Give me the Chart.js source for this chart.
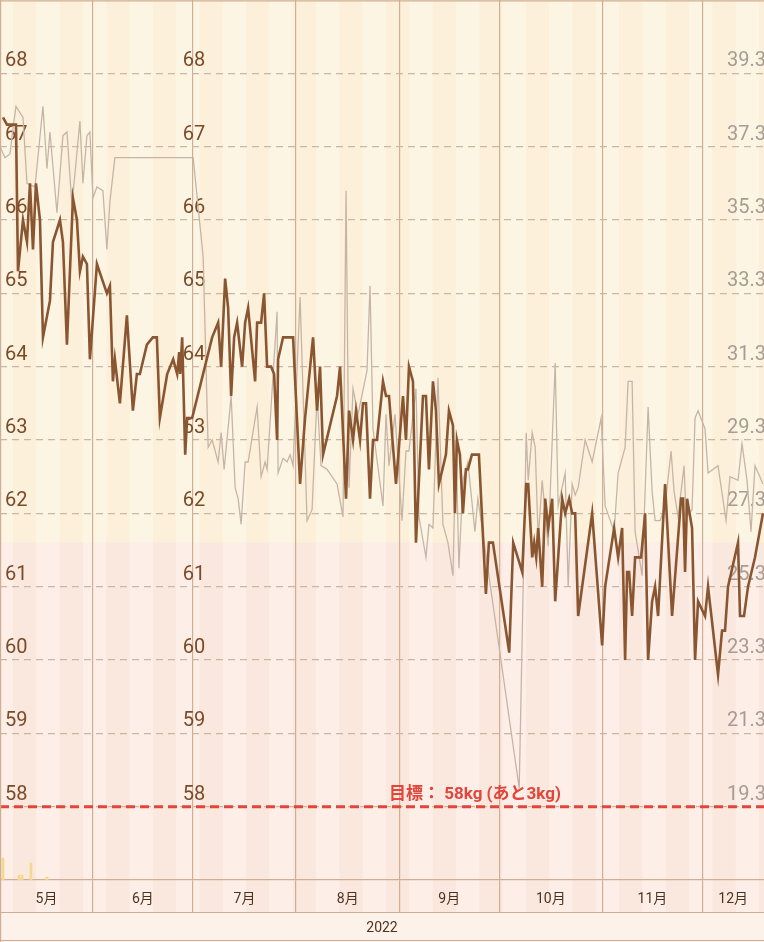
<!DOCTYPE html>
<html>
<head>
<meta charset="utf-8">
<script src="https://cdn.jsdelivr.net/npm/chart.js@4.4.0/dist/chart.umd.min.js"></script>
<style>
html,body{margin:0;padding:0;background:#fdf1e8;}
#wrap{width:764px;height:942px;position:relative;}
</style>
</head>
<body>
<div id="wrap"><canvas id="chart"></canvas></div>
<script>
// days counted from 1 May 2022 (0 = 1 May)
const monthStarts=[0,31,61,92,123,153,184,214,245];
const monthLabels=["5月","6月","7月","8月","9月","10月","11月","12月"];
const yearLabel="2022";
const weightTicks=[58,59,60,61,62,63,64,65,66,67,68];
const fatTicks=[19.3,21.3,23.3,25.3,27.3,29.3,31.3,33.3,35.3,37.3,39.3];
const goalWeight=58;
const goalText="目標： 58kg (あと3kg)";
const zoneLimit=61.6;

const weightDays=[4.0,5.2,7.9,8.5,10.0,11.2,12.1,13.0,13.9,15.1,
16.0,18.1,19.0,21.1,22.0,23.2,25.0,26.2,27.1,28.0,
29.2,30.1,32.2,35.2,36.1,37.0,37.6,39.1,41.2,43.0,
44.2,45.1,47.2,49.0,50.2,51.1,53.3,55.1,56.3,56.9,
57.2,57.8,58.7,59.3,60.8,66.8,68.6,69.5,70.7,71.6,
72.5,73.4,74.3,75.8,76.7,77.6,79.7,80.3,81.5,82.4,
83.3,84.5,85.4,86.3,86.6,88.1,91.1,93.2,94.7,97.1,
98.3,99.2,100.1,104.3,105.2,107.0,107.9,109.1,110.0,111.2,
112.1,113.0,114.2,115.1,116.3,118.1,119.0,119.9,122.0,124.1,
125.0,125.9,127.1,128.0,130.1,131.0,131.9,133.1,134.0,134.9,
137.0,137.9,139.1,139.7,140.3,141.2,142.1,143.0,143.6,144.8,
146.9,149.0,149.9,151.1,156.0,157.2,159.9,161.1,161.7,162.9,
163.5,164.1,164.7,165.9,166.8,167.7,168.9,169.8,171.9,172.8,
174.0,174.9,175.8,176.7,180.9,183.9,184.8,187.5,188.7,189.9,
190.8,191.4,192.0,192.9,193.8,195.6,196.8,197.7,198.9,199.8,
200.7,202.8,204.9,207.6,208.2,208.8,209.4,210.9,211.8,212.7,
214.8,215.7,218.7,219.9,220.8,221.7,224.7,225.3,226.5,227.7,
229.8,232.2];
const weightKg=[67.4,67.3,67.3,65.3,66.0,65.7,66.5,65.6,66.5,66.0,
64.4,64.9,65.7,66.0,65.7,64.3,66.3,66.0,65.3,65.5,
65.4,64.1,65.4,65.0,65.1,63.8,64.1,63.5,64.7,63.4,
63.9,63.9,64.3,64.4,64.4,63.3,63.9,64.1,63.9,64.2,
63.9,64.4,62.8,63.3,63.3,64.4,64.6,64.0,65.2,64.8,
63.6,64.4,64.6,64.0,64.6,64.8,63.8,64.6,64.6,65.0,
64.0,64.0,63.9,63.0,64.1,64.4,64.4,62.4,63.3,64.4,
63.4,64.0,62.8,63.6,64.0,62.2,63.4,63.0,63.4,63.0,
63.5,63.5,62.2,63.0,63.0,63.8,63.6,63.6,62.4,63.6,
63.0,64.0,63.8,61.6,63.6,63.6,62.6,63.8,63.4,62.4,
62.8,63.4,63.2,62.0,63.0,62.8,62.0,62.6,62.6,62.8,
62.8,60.9,61.6,61.6,60.1,61.6,61.2,62.4,62.4,61.4,
61.6,61.4,61.8,61.0,62.2,61.8,62.2,60.8,62.2,62.0,
62.2,62.0,62.0,60.6,62.0,60.2,61.0,61.8,61.4,61.8,
60.0,61.2,61.2,60.6,61.4,61.4,62.0,60.0,60.8,61.0,
60.6,62.4,60.6,62.2,62.2,61.2,62.2,61.8,60.0,60.8,
60.6,61.0,59.8,60.4,60.4,61.0,61.6,60.6,60.6,61.0,
61.4,62.0];

const fatDays=[3.1,4.6,6.1,7.0,7.9,10.0,11.2,13.6,16.0,17.2,
18.1,20.2,22.0,23.2,24.7,27.1,28.0,29.2,30.1,31.0,
32.2,34.0,35.2,36.1,37.6,61.1,64.1,65.6,66.8,68.6,
69.5,70.4,72.5,73.7,74.6,75.5,76.7,77.6,80.3,81.5,
82.7,83.3,86.3,86.6,88.1,89.3,90.2,91.1,93.2,95.3,
96.8,98.3,99.5,101.3,104.3,106.1,107.0,107.9,109.1,110.6,
113.3,114.2,115.1,118.1,119.0,119.9,121.7,123.8,125.0,125.9,
128.0,128.9,131.0,131.9,133.1,134.6,136.1,137.6,139.1,140.0,
140.9,142.1,143.6,145.7,146.6,159.0,161.1,161.7,162.9,163.8,
164.7,165.9,167.7,169.8,170.7,172.8,173.7,174.9,175.8,176.7,
178.8,180.9,183.6,184.8,187.5,188.7,190.8,191.7,192.9,193.8,
195.9,197.7,198.9,199.8,201.3,202.8,204.6,205.5,206.7,208.5,
209.1,210.9,211.8,212.7,214.8,215.7,218.7,221.1,222.3,224.7,
225.9,227.4,228.6,229.8,232.2];
const fatPct=[37.3,37.0,37.1,37.8,38.4,38.1,36.3,36.2,38.4,36.7,
37.7,35.5,37.6,37.7,35.7,38.0,36.3,37.6,37.7,35.9,
36.2,36.1,34.5,35.8,37.0,37.0,34.3,29.1,29.3,28.7,
29.5,28.5,30.5,28.0,27.7,27.0,28.7,28.7,30.2,28.3,
28.7,28.5,32.8,28.4,28.8,28.7,28.9,28.6,33.2,27.1,
27.4,30.5,28.6,28.5,28.1,27.2,36.1,28.0,30.7,30.0,
31.2,33.5,29.6,27.5,30.0,28.6,30.0,27.1,29.0,29.0,
30.7,27.2,26.1,27.0,26.9,31.0,27.0,26.5,25.6,29.3,
25.8,28.2,28.7,26.8,27.7,19.8,29.5,28.2,29.5,29.1,
26.6,28.2,26.4,31.4,27.5,28.4,25.3,28.1,27.8,28.0,
29.3,28.7,29.9,27.5,26.8,28.4,29.1,30.9,30.9,26.8,
25.6,30.2,27.9,27.1,27.1,27.5,29.0,27.9,27.2,28.6,
27.2,27.4,29.9,30.1,29.6,28.4,28.6,27.1,28.3,28.2,
29.2,28.2,26.8,28.6,28.1];

const stepDays=[4.0,8.8,9.7,12.4,17.2];
const stepVals=[1.0,0.22,0.22,0.78,0.14];

const xMin=3.1, xMax=232.5;

// x ticks: month boundary lines + label in middle of visible part of month
const xTickList=[];
for(let i=0;i<monthLabels.length;i++){
    let a=monthStarts[i], b=monthStarts[i+1];
    if(a>xMin && a<xMax) xTickList.push({value:a,kind:"line",text:""});
    let mid=(Math.max(a,xMin)+Math.min(b,xMax))/2;
    xTickList.push({value:mid,kind:"label",text:monthLabels[i]});
}
xTickList.sort((p,q)=>p.value-q.value);

const pts=(xs,ys)=>xs.map((x,i)=>({x:x,y:ys[i]}));

// vertical axes take no room, labels sit inside the plot
const flatY=s=>{s.width=0;s.paddingTop=0;s.paddingBottom=0;s.paddingLeft=0;s.paddingRight=0;};

const bgPlugin={
    id:"bg",
    beforeDraw(chart){
        const c=chart.ctx, a=chart.chartArea, xs=chart.scales.x, ys=chart.scales.y;
        const rowBottom=a.bottom+32;
        c.save();
        c.fillStyle="#fdf2ea";
        c.fillRect(0,0,chart.width,chart.height);
        const yz=ys.getPixelForValue(zoneLimit);
        c.fillStyle="#fdf5e3";
        c.fillRect(a.left,a.top,a.width,yz-a.top);
        c.fillStyle="#fdefe8";
        c.fillRect(a.left,yz,a.width,rowBottom-yz);
        for(let d=7;d<xMax;d+=14){
            let x1=Math.max(xs.getPixelForValue(d),a.left), x2=Math.min(xs.getPixelForValue(d+7),a.right);
            c.fillStyle="#fcf0da";
            c.fillRect(x1,a.top,x2-x1,yz-a.top);
            c.fillStyle="#fae8df";
            c.fillRect(x1,yz,x2-x1,rowBottom-yz);
        }
        c.restore();
    },
    afterDraw(chart){
        const c=chart.ctx, a=chart.chartArea;
        c.save();
        c.strokeStyle="#cfae95";
        c.lineWidth=1.2;
        c.beginPath();
        c.moveTo(0,a.bottom+32.5);c.lineTo(chart.width,a.bottom+32.5);
        c.moveTo(0,chart.height-1.5);c.lineTo(chart.width,chart.height-1.5);
        c.moveTo(0,0.8);c.lineTo(chart.width,0.8);
        c.moveTo(0.6,0);c.lineTo(0.6,chart.height);
        c.stroke();
        c.restore();
    }
};

const goalPlugin={
    id:"goalLabel",
    afterDatasetsDraw(chart){
        const c=chart.ctx, xs=chart.scales.x, ys=chart.scales.y;
        c.save();
        c.font="bold 17px Roboto, 'Noto Sans CJK JP', sans-serif";
        c.fillStyle="#e2453a";
        c.textAlign="center";
        c.textBaseline="middle";
        c.fillText(goalText,xs.getPixelForValue(145.7),ys.getPixelForValue(goalWeight)-12);
        c.restore();
    }
};

const tickFont={family:"Roboto, 'Noto Sans CJK JP', sans-serif",size:20};

new Chart(document.getElementById("chart"),{
    data:{
        datasets:[
            {
                type:"line",
                label:"体重",
                data:pts(weightDays,weightKg),
                borderColor:"#8a5631",
                borderWidth:2.6,
                pointRadius:0,
                tension:0,
                yAxisID:"y",
                order:1
            },
            {
                type:"line",
                label:"体脂肪率",
                data:pts(fatDays,fatPct),
                borderColor:"#c6b5a6",
                borderWidth:1.3,
                pointRadius:0,
                tension:0,
                yAxisID:"y2",
                order:2
            },
            {
                type:"line",
                label:"目標",
                data:[{x:xMin,y:goalWeight},{x:xMax,y:goalWeight}],
                borderColor:"#e2453a",
                borderWidth:3,
                borderDash:[9,5],
                pointRadius:0,
                yAxisID:"y",
                order:3
            },
            {
                type:"bar",
                label:"歩数",
                data:pts(stepDays,stepVals),
                backgroundColor:"#f3d98e",
                barThickness:2,
                yAxisID:"yb",
                order:4
            }
        ]
    },
    options:{
        responsive:true,
        maintainAspectRatio:false,
        animation:false,
        devicePixelRatio:1,
        layout:{padding:0},
        plugins:{legend:{display:false},tooltip:{enabled:false}},
        scales:{
            x:{
                type:"linear",
                position:"bottom",
                offset:false,
                min:xMin,
                max:xMax,
                afterBuildTicks:s=>{s.ticks=xTickList.map(t=>({value:t.value}));},
                afterFit:s=>{s.height=62;s.paddingLeft=0;s.paddingRight=0;},
                ticks:{
                    autoSkip:false,
                    maxRotation:0,
                    minRotation:0,
                    padding:-21,
                    color:"#4e3220",
                    font:{family:"Roboto, 'Noto Sans CJK JP', sans-serif",size:14},
                    callback:(v,i)=>xTickList[i]?xTickList[i].text:""
                },
                grid:{
                    offset:false,
                    color:ctx=>(ctx.tick&&xTickList[ctx.index]&&xTickList[ctx.index].kind==="line")?"#cfae95":"rgba(0,0,0,0)",
                    lineWidth:1.2,
                    tickLength:32,
                    drawTicks:true
                },
                border:{display:true,color:"#cfae95",width:1.2},
                title:{
                    display:true,
                    text:yearLabel,
                    color:"#4e3220",
                    font:{family:"Roboto, sans-serif",size:14},
                    padding:{top:12,bottom:5}
                }
            },
            y:{
                type:"linear",
                position:"left",
                min:57,
                max:69,
                afterBuildTicks:s=>{s.ticks=weightTicks.map(v=>({value:v}));},
                afterFit:flatY,
                ticks:{mirror:true,padding:5,labelOffset:-12,color:"#7b4a27",font:tickFont},
                grid:{color:"#cbb6a4",lineWidth:1.2,drawTicks:false},
                border:{display:false,dash:[7,5]}
            },
            yDup:{
                type:"linear",
                position:{x:64.7},
                min:57,
                max:69,
                afterBuildTicks:s=>{s.ticks=weightTicks.map(v=>({value:v}));},
                afterFit:flatY,
                ticks:{mirror:true,padding:0,labelOffset:-12,color:"#7b4a27",font:tickFont},
                grid:{display:false,drawTicks:false},
                border:{display:false}
            },
            y2:{
                type:"linear",
                position:"right",
                min:17.3,
                max:41.3,
                afterBuildTicks:s=>{s.ticks=fatTicks.map(v=>({value:v}));},
                afterFit:flatY,
                ticks:{mirror:true,crossAlign:"far",padding:2,labelOffset:-12,color:"#a59c94",font:tickFont,callback:v=>v.toFixed(1)},
                grid:{display:false,drawTicks:false},
                border:{display:false}
            },
            yb:{
                type:"linear",
                display:false,
                min:0,
                max:40
            }
        }
    },
    plugins:[bgPlugin,goalPlugin]
});
</script>
</body>
</html>
